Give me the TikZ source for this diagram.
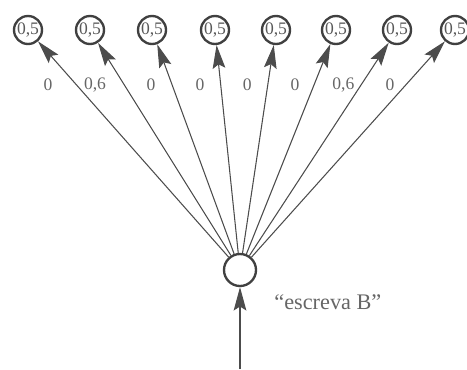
\documentclass[tikz,border=0pt]{standalone}
\usepackage{fontspec}
\setmainfont{Liberation Serif}
\usetikzlibrary{arrows.meta}

\begin{document}
\begin{tikzpicture}[line width=0.9pt,
  unit/.style={circle, draw=black!75, line width=2pt, minimum size=8.4mm, inner sep=0pt, text=black!65, font=\fontsize{15}{17}\selectfont},
  wt/.style={text=black!60, font=\fontsize{15}{17}\selectfont},
  link/.style={-{Stealth[length=7mm, width=3.8mm, inset=1.2mm]}, draw=black!70}]
  \useasboundingbox (0,0) rectangle (14.01,11.07);
  % unidade de entrada
  \node[unit, minimum size=9.6mm] (B) at (7.2,2.97) {};
  \node[wt, anchor=west, font=\fontsize{19}{22}\selectfont] (eB) at (8.1,2.01) {``escreva B''};
  \coordinate (in) at (7.2,0);
  \draw[link] (in)--(B);
  % unidades de saida
  \node[unit] (u1) at (0.84,10.17) {0,5};
  \node[unit] (u2) at (2.70,10.17) {0,5};
  \node[unit] (u3) at (4.56,10.17) {0,5};
  \node[unit] (u4) at (6.45,10.17) {0,5};
  \node[unit] (u5) at (8.28,10.17) {0,5};
  \node[unit] (u6) at (10.08,10.17) {0,5};
  \node[unit] (u7) at (11.91,10.17) {0,5};
  \node[unit] (u8) at (13.65,10.17) {0,5};
  \draw[link] (B)--(u1);
  \draw[link] (B)--(u2);
  \draw[link] (B)--(u3);
  \draw[link] (B)--(u4);
  \draw[link] (B)--(u5);
  \draw[link] (B)--(u6);
  \draw[link] (B)--(u7);
  \draw[link] (B)--(u8);
  % pesos
  \node[wt] (w1) at (1.44,8.52) {0};
  \node[wt] (w2) at (2.85,8.52) {0,6};
  \node[wt] (w3) at (4.53,8.52) {0};
  \node[wt] (w4) at (6.00,8.52) {0};
  \node[wt] (w5) at (7.42,8.52) {0};
  \node[wt] (w6) at (8.85,8.52) {0};
  \node[wt] (w7) at (10.30,8.52) {0,6};
  \node[wt] (w8) at (11.70,8.52) {0};
\end{tikzpicture}
\end{document}
